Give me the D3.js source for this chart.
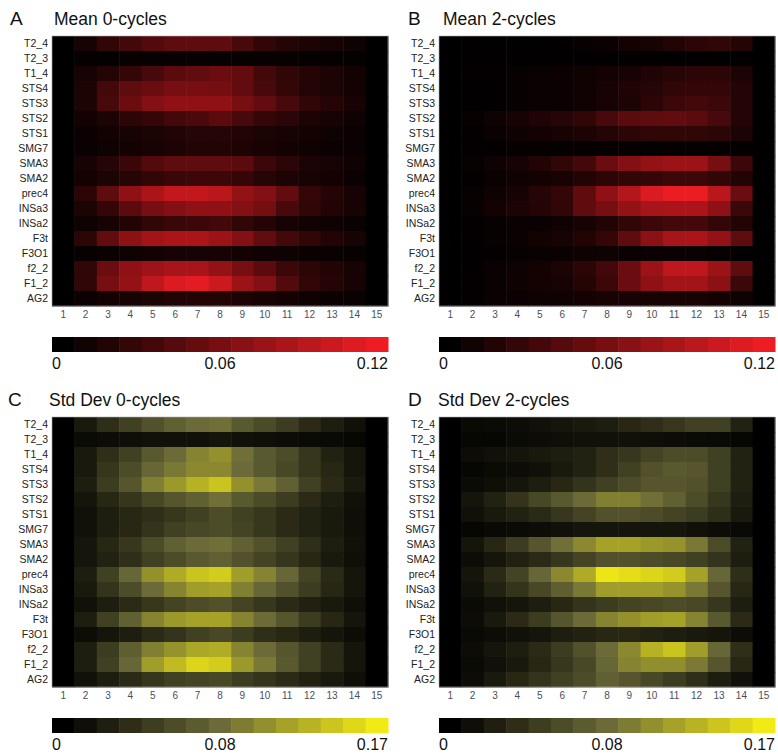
<!DOCTYPE html>
<html lang="en">
<head>
<meta charset="utf-8">
<title>Mean and Std Dev heatmaps</title>
<style>
  body { margin: 0; background: #fff; }
  svg { display: block; font-family: "Liberation Sans", Arial, sans-serif; }
</style>
</head>
<body>
<svg width="778" height="754"></svg>
<script src="https://d3js.org/d3.v7.min.js"></script>
<script>
var rows = ["T2_4", "T2_3", "T1_4", "STS4", "STS3", "STS2", "STS1", "SMG7", "SMA3",
            "SMA2", "prec4", "INSa3", "INSa2", "F3t", "F3O1", "f2_2", "F1_2", "AG2"];
var cols = [1, 2, 3, 4, 5, 6, 7, 8, 9, 10, 11, 12, 13, 14, 15];

var meanTicks = ["0", "0.06", "0.12"];
var sdTicks = ["0", "0.08", "0.17"];

// Mean 0-cycles
var mean0 = [
  [0,.012,.024,.034,.042,.048,.048,.048,.036,.024,.018,.014,.012,.007,0],
  [0,.003,.003,.004,.004,.004,.004,.004,.004,.004,.004,.003,.003,.003,0],
  [0,.012,.018,.026,.036,.046,.050,.054,.050,.034,.024,.018,.014,.010,0],
  [0,.014,.034,.048,.054,.060,.060,.058,.050,.036,.026,.018,.014,.010,0],
  [0,.014,.036,.054,.066,.072,.072,.072,.060,.050,.036,.024,.018,.012,0],
  [0,.010,.014,.022,.026,.034,.038,.046,.036,.026,.022,.014,.012,.007,0],
  [0,.006,.010,.012,.014,.017,.019,.019,.017,.014,.012,.010,.007,.006,0],
  [0,.005,.007,.010,.012,.014,.017,.017,.014,.012,.010,.007,.006,.005,0],
  [0,.012,.019,.029,.042,.048,.048,.048,.046,.030,.022,.014,.012,.008,0],
  [0,.010,.014,.019,.024,.029,.031,.031,.026,.019,.014,.012,.010,.006,0],
  [0,.022,.048,.072,.086,.098,.098,.094,.074,.066,.050,.026,.018,.012,0],
  [0,.014,.026,.046,.060,.066,.072,.072,.066,.058,.036,.024,.017,.012,0],
  [0,.007,.012,.017,.024,.029,.031,.034,.024,.018,.012,.010,.007,.005,0],
  [0,.022,.050,.070,.082,.086,.086,.078,.066,.050,.034,.024,.017,.012,0],
  [0,.004,.006,.007,.010,.012,.012,.012,.010,.008,.007,.006,.005,.004,0],
  [0,.024,.054,.072,.079,.084,.084,.074,.060,.046,.030,.022,.017,.012,0],
  [0,.024,.060,.074,.096,.110,.114,.102,.078,.066,.042,.024,.018,.012,0],
  [0,.006,.010,.012,.014,.017,.017,.017,.014,.012,.010,.007,.006,.005,0]
];

// Mean 2-cycles
var mean2 = [
  [0,.001,.001,.001,.001,.002,.004,.006,.010,.012,.017,.022,.024,.018,0],
  [0,.001,.001,.001,.001,.001,.001,.001,.001,.001,.001,.001,.001,.001,0],
  [0,.002,.002,.004,.005,.006,.007,.010,.012,.016,.019,.022,.022,.014,0],
  [0,.001,.002,.004,.005,.006,.008,.012,.016,.019,.024,.026,.026,.018,0],
  [0,.001,.002,.004,.005,.006,.008,.012,.014,.022,.030,.034,.030,.018,0],
  [0,.004,.007,.012,.016,.019,.024,.036,.046,.048,.050,.046,.036,.018,0],
  [0,.002,.005,.007,.010,.012,.014,.018,.022,.024,.024,.024,.022,.014,0],
  [0,.002,.002,.003,.003,.003,.003,.003,.003,.003,.003,.003,.003,.002,0],
  [0,.004,.007,.012,.017,.024,.034,.054,.066,.074,.078,.078,.060,.030,0],
  [0,.002,.005,.007,.010,.012,.017,.022,.024,.026,.030,.030,.024,.017,0],
  [0,.004,.007,.012,.019,.026,.048,.072,.090,.110,.118,.118,.094,.054,0],
  [0,.004,.010,.014,.018,.024,.048,.060,.074,.084,.086,.086,.072,.030,0],
  [0,.002,.004,.005,.006,.008,.012,.017,.024,.030,.034,.034,.026,.017,0],
  [0,.002,.004,.006,.010,.012,.017,.026,.048,.070,.084,.086,.074,.048,0],
  [0,.001,.002,.004,.005,.006,.007,.007,.006,.006,.006,.005,.004,.002,0],
  [0,.002,.005,.007,.010,.014,.022,.034,.054,.078,.096,.096,.078,.048,0],
  [0,.002,.005,.007,.010,.012,.018,.030,.054,.072,.082,.082,.070,.030,0],
  [0,.002,.005,.006,.007,.008,.010,.012,.012,.012,.012,.012,.010,.007,0]
];

// Std Dev 0-cycles
var sd0 = [
  [0,.020,.037,.051,.065,.077,.085,.088,.071,.060,.048,.034,.024,.014,0],
  [0,.009,.010,.012,.014,.014,.014,.017,.014,.012,.010,.009,.007,.005,0],
  [0,.020,.037,.051,.071,.085,.102,.110,.088,.071,.061,.043,.027,.017,0],
  [0,.020,.043,.061,.082,.094,.105,.105,.085,.071,.058,.043,.031,.017,0],
  [0,.024,.048,.068,.099,.116,.133,.145,.111,.094,.077,.051,.034,.020,0],
  [0,.017,.031,.043,.058,.068,.077,.088,.071,.060,.048,.034,.024,.014,0],
  [0,.014,.024,.031,.037,.044,.051,.061,.051,.044,.034,.027,.020,.012,0],
  [0,.014,.024,.031,.041,.051,.058,.061,.054,.044,.034,.027,.020,.012,0],
  [0,.017,.031,.044,.061,.077,.085,.088,.077,.065,.051,.037,.024,.014,0],
  [0,.017,.027,.037,.051,.061,.071,.077,.065,.054,.043,.031,.020,.012,0],
  [0,.024,.051,.082,.111,.128,.145,.150,.119,.102,.082,.054,.034,.017,0],
  [0,.020,.041,.061,.085,.102,.119,.122,.099,.082,.065,.048,.031,.017,0],
  [0,.014,.024,.034,.044,.054,.061,.065,.054,.044,.034,.026,.020,.012,0],
  [0,.024,.051,.077,.102,.116,.122,.122,.102,.085,.068,.048,.031,.017,0],
  [0,.010,.017,.024,.034,.041,.051,.058,.048,.037,.031,.024,.017,.010,0],
  [0,.024,.048,.075,.099,.112,.126,.129,.102,.085,.068,.051,.034,.017,0],
  [0,.024,.051,.082,.119,.139,.156,.150,.116,.094,.071,.051,.034,.017,0],
  [0,.014,.024,.034,.043,.051,.054,.058,.048,.041,.034,.026,.020,.012,0]
];

// Std Dev 2-cycles
var sd2 = [
  [0,.007,.009,.010,.014,.017,.020,.024,.031,.037,.044,.051,.051,.027,0],
  [0,.005,.005,.009,.010,.012,.014,.014,.014,.012,.010,.009,.007,.005,0],
  [0,.010,.014,.017,.020,.024,.027,.037,.044,.054,.061,.061,.051,.027,0],
  [0,.005,.009,.010,.014,.020,.027,.037,.051,.065,.071,.068,.051,.027,0],
  [0,.009,.012,.017,.024,.031,.041,.051,.061,.068,.068,.065,.051,.027,0],
  [0,.017,.027,.041,.058,.071,.085,.099,.099,.088,.077,.061,.044,.024,0],
  [0,.014,.020,.027,.034,.044,.054,.065,.065,.061,.054,.048,.037,.020,0],
  [0,.005,.007,.009,.010,.014,.017,.017,.017,.017,.017,.014,.010,.007,0],
  [0,.017,.031,.048,.068,.088,.105,.122,.122,.116,.112,.094,.061,.027,0],
  [0,.010,.017,.026,.034,.044,.054,.065,.065,.061,.058,.051,.041,.024,0],
  [0,.017,.034,.054,.082,.105,.128,.167,.162,.156,.150,.122,.082,.037,0],
  [0,.014,.027,.041,.058,.075,.094,.119,.119,.119,.112,.094,.068,.031,0],
  [0,.009,.014,.017,.024,.031,.041,.048,.054,.058,.061,.058,.044,.024,0],
  [0,.010,.020,.034,.048,.068,.085,.102,.111,.119,.122,.102,.071,.034,0],
  [0,.007,.010,.014,.017,.024,.027,.031,.031,.027,.024,.020,.017,.010,0],
  [0,.010,.017,.024,.034,.048,.065,.085,.105,.133,.145,.119,.082,.037,0],
  [0,.009,.014,.020,.031,.044,.058,.082,.102,.109,.109,.095,.068,.031,0],
  [0,.010,.020,.031,.041,.051,.061,.077,.068,.058,.048,.037,.024,.014,0]
];

var redRamp = d3.interpolateRgb("#000000", "#ee1d24");
var yellowRamp = d3.piecewise(d3.interpolateRgb, ["#000000", "#6b6a38", "#f2ea14"]);

var panels = [
  {letter: "A", title: "Mean 0-cycles",     data: mean0, max: 0.12, ticks: meanTicks, ramp: redRamp,    x: 52,  y: 36,  lx: 10,  tx: 54},
  {letter: "B", title: "Mean 2-cycles",     data: mean2, max: 0.12, ticks: meanTicks, ramp: redRamp,    x: 439, y: 36,  lx: 408, tx: 443},
  {letter: "C", title: "Std Dev 0-cycles",  data: sd0,   max: 0.17, ticks: sdTicks,   ramp: yellowRamp, x: 52,  y: 417, lx: 8,   tx: 49},
  {letter: "D", title: "Std Dev 2-cycles",  data: sd2,   max: 0.17, ticks: sdTicks,   ramp: yellowRamp, x: 439, y: 417, lx: 408, tx: 438}
];

var svg = d3.select("svg"),
    width = 336,
    height = 270,
    nLevels = 15;

panels.forEach(function(p) {
  var g = svg.append("g")
    .attr("transform", "translate(" + p.x + "," + p.y + ")");

  var x = d3.scaleBand().domain(cols).range([0, width]),
      y = d3.scaleBand().domain(rows).range([0, height]),
      c = d3.scaleSequential(p.ramp).domain([0, p.max]).clamp(true);

  // titles
  svg.append("text")
    .attr("x", p.lx).attr("y", p.y - 11)
    .style("font-size", "19px").style("fill", "#111")
    .text(p.letter);
  svg.append("text")
    .attr("x", p.tx).attr("y", p.y - 11)
    .style("font-size", "17.5px").style("fill", "#111")
    .text(p.title);

  // cells
  var cells = [];
  p.data.forEach(function(row, i) {
    row.forEach(function(v, j) { cells.push({r: rows[i], c: cols[j], v: v}); });
  });
  g.selectAll("rect.cell")
    .data(cells)
    .enter().append("rect")
    .attr("class", "cell")
    .attr("x", function(d) { return x(d.c); })
    .attr("y", function(d) { return y(d.r); })
    .attr("width", x.bandwidth() + 0.5)
    .attr("height", y.bandwidth() + 0.5)
    .attr("fill", function(d) { return c(d.v); });

  g.append("rect")
    .attr("width", width).attr("height", height)
    .attr("fill", "none").attr("stroke", "#aaa").attr("stroke-width", 0.6);

  // row labels
  g.selectAll("text.row")
    .data(rows)
    .enter().append("text")
    .attr("class", "row")
    .attr("x", -4)
    .attr("y", function(d) { return y(d) + y.bandwidth() / 2; })
    .attr("dy", "0.35em")
    .attr("text-anchor", "end")
    .style("font-size", "10.5px").style("fill", "#222")
    .text(function(d) { return d; });

  // column labels
  var ax = g.append("g")
    .attr("transform", "translate(0," + height + ")")
    .call(d3.axisBottom(x).tickSize(0).tickPadding(5));
  ax.select(".domain").remove();
  ax.selectAll("text")
    .style("font-family", "Liberation Sans, Arial, sans-serif")
    .style("font-size", "10px").style("fill", "#4a4f5a");

  // colorbar
  var cb = g.append("g").attr("transform", "translate(0," + 301 + ")");
  var cx = d3.scaleLinear().domain([0, p.max]).range([0, width]);
  cb.selectAll("rect")
    .data(d3.range(nLevels))
    .enter().append("rect")
    .attr("x", function(i) { return cx(i * p.max / nLevels); })
    .attr("width", width / nLevels + 0.5)
    .attr("height", 15)
    .attr("fill", function(i) { return p.ramp(i / (nLevels - 1)); });

  var tickVals = [0, p.max / 2, p.max];
  cb.selectAll("text")
    .data(tickVals)
    .enter().append("text")
    .attr("x", function(d) { return cx(d); })
    .attr("y", 32)
    .attr("text-anchor", function(d, i) { return i === 0 ? "start" : (i === 1 ? "middle" : "end"); })
    .style("font-size", "16px").style("fill", "#111")
    .text(function(d, i) { return p.ticks[i]; });
});
</script>
</body>
</html>
